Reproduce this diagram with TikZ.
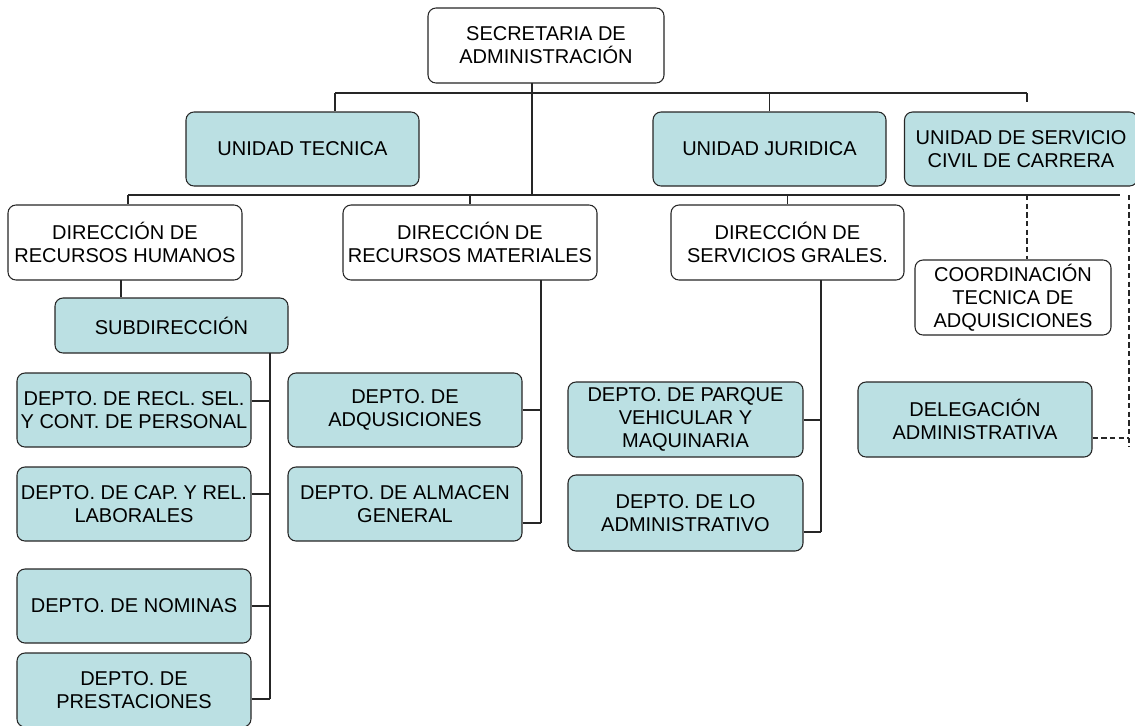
\documentclass[tikz,border=0pt]{standalone}
\usepackage{fontspec}
\setmainfont{Liberation Sans}
\usepackage{tikz}

\definecolor{celeste}{RGB}{187,224,227}

\begin{document}
\begin{tikzpicture}[x=0.75pt, y=-0.75pt,
	caja/.style={draw=black!85, line width=0.8pt, rounded corners=6pt,
		align=center, inner sep=0pt, font=\fontsize{15}{17.25}\selectfont},
	blanca/.style={caja, fill=white},
	azul/.style={caja, fill=celeste},
	tam/.style 2 args={minimum width=#1*0.75pt, minimum height=#2*0.75pt}]
	\useasboundingbox (0, 0) rectangle (1135, 725);

	% 顶层与三个单位
	\node[blanca, tam={236}{75}] (sec) at (546, 45.5) {SECRETARIA DE\\ADMINISTRACIÓN};
	\node[azul, tam={233}{74}] (ut) at (302.5, 149) {UNIDAD TECNICA};
	\node[azul, tam={233}{74}] (uj) at (769.5, 149) {UNIDAD JURIDICA};
	\node[azul, tam={233}{74}] (usc) at (1021, 149) {UNIDAD DE SERVICIO\\CIVIL DE CARRERA};

	% 三个 dirección
	\node[blanca, tam={234}{75}] (drh) at (125, 242.5) {DIRECCIÓN DE\\RECURSOS HUMANOS};
	\node[blanca, tam={254}{75}] (drm) at (470, 242.5) {DIRECCIÓN DE\\RECURSOS MATERIALES};
	\node[blanca, tam={233}{75}] (dsg) at (787.5, 242.5) {DIRECCIÓN DE\\SERVICIOS GRALES.};
	\node[blanca, tam={196}{75}] (coord) at (1013, 297.5) {COORDINACIÓN\\TECNICA DE\\ADQUISICIONES};

	% 各个 depto
	\node[azul, tam={233}{55}] (sub) at (171.5, 325.5) {SUBDIRECCIÓN};
	\node[azul, tam={234}{74}] (d1) at (134, 410) {DEPTO. DE RECL. SEL.\\Y CONT. DE PERSONAL};
	\node[azul, tam={234}{74}] (d2) at (134, 504) {DEPTO. DE CAP. Y REL.\\LABORALES};
	\node[azul, tam={234}{74}] (d3) at (134, 606) {DEPTO. DE NOMINAS};
	\node[azul, tam={234}{74}] (d4) at (134, 690) {DEPTO. DE\\PRESTACIONES};
	\node[azul, tam={234}{74}] (adq) at (405, 410) {DEPTO. DE\\ADQUSICIONES};
	\node[azul, tam={234}{74}] (alm) at (405, 504) {DEPTO. DE ALMACEN\\GENERAL};
	\node[azul, tam={235}{75}] (par) at (685.5, 419.5) {DEPTO. DE PARQUE\\VEHICULAR Y\\MAQUINARIA};
	\node[azul, tam={235}{76}] (lad) at (685.5, 513) {DEPTO. DE LO\\ADMINISTRATIVO};
	\node[azul, tam={234}{75}] (del) at (975, 419.5) {DELEGACIÓN\\ADMINISTRATIVA};

	\begin{scope}[line width=0.8pt, black!85]
		% 上面两条横线
		\coordinate (s0) at (532, 83);
		\coordinate (t1) at (335, 93);
		\coordinate (t2) at (1027, 93);
		\coordinate (m1) at (128, 195);
		\coordinate (m2) at (1120, 195);
		\draw (t1) -- (t2);
		\draw (t1) -- (t1 |- ut.north);
		\draw (uj.north) -- (uj.north |- t1);
		\draw (t2) -- ++(0, 9);
		\draw (s0) -- (s0 |- m1);
		\draw (m1) -- (m2);
		\draw (m1) -- (m1 |- drh.north);
		\draw (drm.north) -- (drm.north |- m1);
		\draw (dsg.north) -- (dsg.north |- m1);

		% 虚线
		\coordinate (c1) at (1027, 195);
		\coordinate (c2) at (1129, 195);
		\coordinate (c3) at (1129, 438);
		\draw[dash pattern=on 4pt off 2.5pt] (c1) -- (c1 |- coord.north);
		\draw[dash pattern=on 4pt off 2.5pt] (c2) -- ++(0, 252);
		\draw[dash pattern=on 4pt off 2.5pt] (del.east |- c3) -- (c3);

		% Recursos Humanos
		\coordinate (h0) at (121, 280);
		\coordinate (h1) at (270, 353);
		\draw (h0) -- (h0 |- sub.north);
		\draw (h1) -- (270, 699);
		\foreach \n/\y in {d1/401, d2/494, d3/606, d4/699}
			\draw (\n.east |- 0, \y) -- (270, \y);

		% Recursos Materiales
		\coordinate (r0) at (541, 280);
		\draw (r0) -- (541, 523);
		\draw (adq.east) -- (541, 410);
		\draw (alm.east |- 0, 523) -- (541, 523);

		% Servicios Grales.
		\coordinate (g0) at (821, 280);
		\draw (g0) -- (821, 532);
		\draw (par.east |- 0, 420) -- (821, 420);
		\draw (lad.east |- 0, 532) -- (821, 532);
	\end{scope}
\end{tikzpicture}
\end{document}
